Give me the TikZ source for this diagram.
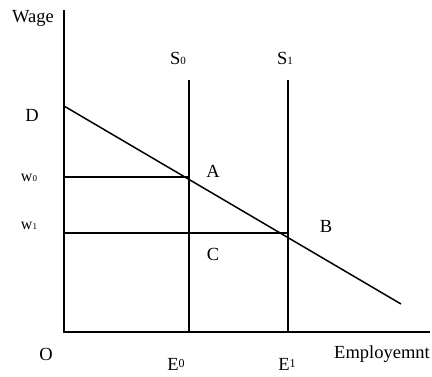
\documentclass[tikz,border=0pt]{standalone}
\usepackage{fontspec}
\setmainfont{Liberation Serif}
\begin{document}
\begin{tikzpicture}[x=1pt,y=-1pt,
  axis/.style={line width=1.5pt},
  curve/.style={line width=1.5pt},
  lbl/.style={font=\fontsize{18.5}{21}\selectfont, inner sep=0pt}]
\useasboundingbox (0,0) rectangle (432,376);
% coordinates
\coordinate (O) at (64,332);
\coordinate (ytop) at (64,10);
\coordinate (xend) at (430,332);
\coordinate (D0) at (64,106);
\coordinate (Dend) at (401,304);
\coordinate (S0top) at (189,80);
\coordinate (S0bot) at (189,332);
\coordinate (S1top) at (288,80);
\coordinate (S1bot) at (288,332);
\coordinate (w0L) at (64,177);
\coordinate (w0R) at (189,177);
\coordinate (w1L) at (64,233);
\coordinate (w1R) at (288,233);
% axes
\draw[axis] (ytop) -- (O) -- (xend);
% demand
\draw[curve] (D0) -- (Dend);
% supply
\draw[curve] (S0top) -- (S0bot);
\draw[curve] (S1top) -- (S1bot);
% wage lines
\draw[curve] (w0L) -- (w0R);
\draw[curve] (w1L) -- (w1R);
% labels
\node[lbl] (wage) at (33,18) {Wage};
\node[lbl] (dl) at (32,115) {D};
\node[lbl] (w0) at (29,178) {\fontsize{16}{18}\selectfont w\raisebox{0pt}{\fontsize{9}{10}\selectfont 0}};
\node[lbl] (w1) at (29,226) {\fontsize{16}{18}\selectfont w\raisebox{0pt}{\fontsize{9}{10}\selectfont 1}};
\node[lbl] (s0) at (178,58) {S\raisebox{0pt}{\fontsize{11}{13}\selectfont 0}};
\node[lbl] (s1) at (285,58) {S\raisebox{0pt}{\fontsize{11}{13}\selectfont 1}};
\node[lbl] (A) at (213,171) {A};
\node[lbl] (B) at (326,226) {B};
\node[lbl] (C) at (213,254) {C};
\node[lbl] (Ol) at (46,354) {O};
\node[lbl] (e0) at (176,364) {E\raisebox{3pt}{\fontsize{12}{14}\selectfont 0}};
\node[lbl] (e1) at (287,364) {E\raisebox{3pt}{\fontsize{12}{14}\selectfont 1}};
\node[lbl,anchor=east] (emp) at (430,354) {Employemnt};
\end{tikzpicture}
\end{document}
